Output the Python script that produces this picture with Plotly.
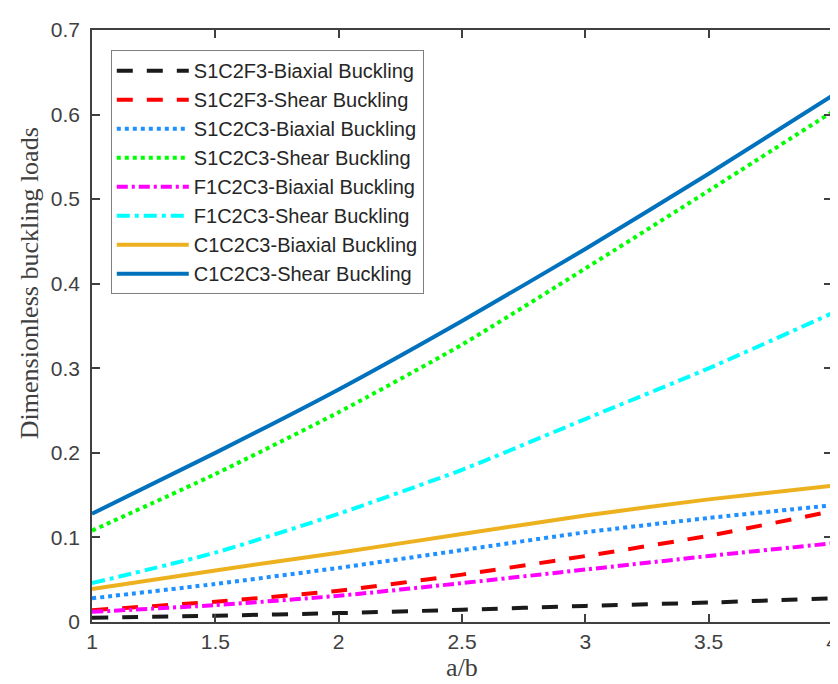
import plotly.graph_objects as go

# a/b values
ab = [1.0, 1.5, 2.0, 2.5, 3.0, 3.5, 4.0]

# series (dimensionless buckling loads)
s1c2f3_biaxial = [0.005, 0.0075, 0.0105, 0.0145, 0.019, 0.023, 0.028]
s1c2f3_shear   = [0.014, 0.024, 0.037, 0.056, 0.078, 0.102, 0.131]
s1c2c3_biaxial = [0.028, 0.045, 0.064, 0.085, 0.106, 0.123, 0.138]
s1c2c3_shear   = [0.108, 0.175, 0.248, 0.328, 0.418, 0.510, 0.603]
f1c2c3_biaxial = [0.012, 0.020, 0.031, 0.046, 0.062, 0.078, 0.093]
f1c2c3_shear   = [0.046, 0.082, 0.128, 0.180, 0.240, 0.300, 0.365]
c1c2c3_biaxial = [0.039, 0.061, 0.082, 0.104, 0.126, 0.145, 0.161]
c1c2c3_shear   = [0.128, 0.200, 0.275, 0.356, 0.441, 0.530, 0.622]

names = [
    "S1C2F3-Biaxial Buckling", "S1C2F3-Shear Buckling",
    "S1C2C3-Biaxial Buckling", "S1C2C3-Shear Buckling",
    "F1C2C3-Biaxial Buckling", "F1C2C3-Shear Buckling",
    "C1C2C3-Biaxial Buckling", "C1C2C3-Shear Buckling",
]
series = [s1c2f3_biaxial, s1c2f3_shear, s1c2c3_biaxial, s1c2c3_shear,
          f1c2c3_biaxial, f1c2c3_shear, c1c2c3_biaxial, c1c2c3_shear]
colors = ["#1a1a1a", "#ff0000", "#1e90ff", "#00ff00",
          "#ff00ff", "#00ffff", "#edb120", "#0072bd"]
dashes = ["16px,14px", "16px,14px", "4px,4px", "4px,4px",
          "11px,4px,3px,4px", "13px,5px,4px,5px", "solid", "solid"]

x_ticks = [1, 1.5, 2, 2.5, 3, 3.5, 4]
x_ticktext = ["1", "1.5", "2", "2.5", "3", "3.5", "4"]
y_ticks = [0, 0.1, 0.2, 0.3, 0.4, 0.5, 0.6, 0.7]
y_ticktext = ["0", "0.1", "0.2", "0.3", "0.4", "0.5", "0.6", "0.7"]

x_title = "a/b"
y_title = "Dimensionless buckling loads"

fig = go.Figure()
for nm, ys, c, d in zip(names, series, colors, dashes):
    fig.add_trace(go.Scatter(
        x=ab, y=ys, name=nm, mode="lines",
        line=dict(color=c, width=4, dash=d, shape="spline", smoothing=0.6),
    ))

axis_col = "#404040"
serif = "Liberation Serif, Times New Roman, serif"
fig.update_layout(
    width=838, height=684,
    margin=dict(l=84, r=8, t=22, b=70),
    paper_bgcolor="white", plot_bgcolor="white",
    font=dict(family="Liberation Sans, Arial, sans-serif", color=axis_col),
    showlegend=True,
    legend=dict(
        x=0.0254, y=0.966, xanchor="left", yanchor="top",
        bgcolor="white", bordercolor="#7f7f7f", borderwidth=1,
        font=dict(family="Liberation Sans, Arial, sans-serif", size=20, color="#262626"),
        itemwidth=72, tracegroupgap=0,
    ),
    xaxis=dict(
        range=[1, 4], tickvals=x_ticks, ticktext=x_ticktext,
        ticks="inside", ticklen=8, tickwidth=1.5, tickcolor=axis_col,
        showline=True, linecolor=axis_col, linewidth=1.5, mirror="ticks",
        showgrid=False, zeroline=False,
        tickfont=dict(size=21, color=axis_col),
        title=dict(text=x_title, font=dict(family=serif, size=26, color=axis_col), standoff=6),
    ),
    yaxis=dict(
        range=[0, 0.7], tickvals=y_ticks, ticktext=y_ticktext,
        ticks="inside", ticklen=8, tickwidth=1.5, tickcolor=axis_col,
        showline=True, linecolor=axis_col, linewidth=1.5, mirror="ticks",
        showgrid=False, zeroline=False, ticklabelstandoff=6,
        tickfont=dict(size=21, color=axis_col),
    ),
    annotations=[dict(
        text=y_title, textangle=-90, showarrow=False,
        xref="paper", yref="paper", x=-0.084, y=0.572,
        xanchor="center", yanchor="middle",
        font=dict(family=serif, size=26, color=axis_col),
    )],
)

fig.write_html("out.html")
